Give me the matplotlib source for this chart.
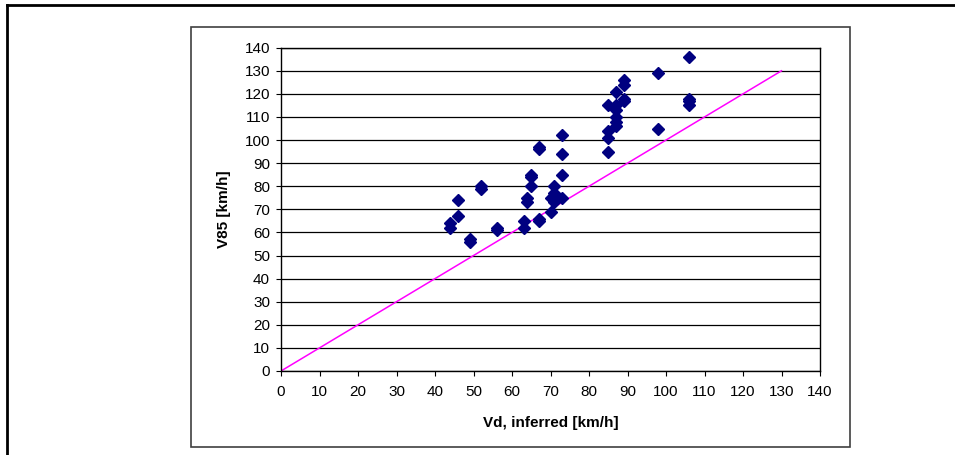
import matplotlib
matplotlib.use("Agg")
import matplotlib.pyplot as plt
from matplotlib.lines import Line2D
from matplotlib.patches import Rectangle

plt.rcParams["font.family"] = ["Liberation Sans", "DejaVu Sans"]

# data
vd_inferred = [52, 52, 46, 46, 44, 44, 56, 56, 49, 49,
               63, 63, 67, 67, 70, 71, 71, 71, 70, 73,
               64, 64, 65, 65, 65, 73, 73, 73, 67, 67,
               106, 98, 89, 89, 87, 89, 89, 85, 87, 87,
               87, 87, 87, 85, 85, 85, 98, 106, 106, 106]
v85 = [79, 80, 74, 67, 64, 62, 62, 61, 56, 57,
       65, 62, 66, 65, 69, 73, 77, 80, 75, 75,
       75, 73, 80, 84, 85, 85, 94, 102, 96, 97,
       136, 129, 126, 124, 121, 117, 118, 115, 115, 113,
       110, 108, 106, 104, 101, 95, 105, 118, 117, 115]
line_x = [0, 130]
line_y = [0, 130]

fig = plt.figure(figsize=(9.55, 4.55), dpi=100)
ax = fig.add_axes([281 / 955, 1 - 371 / 455, 539 / 955, (371 - 47.7) / 455])

ax.plot(line_x, line_y, color="#ff00ff", linewidth=1.1, zorder=2)
ax.plot(vd_inferred, v85, linestyle="none", marker="D", markersize=6.3,
        color="#000080", zorder=3)

ax.set_xlim(0, 140)
ax.set_ylim(0, 140)
ax.set_xticks(range(0, 141, 10))
ax.set_yticks(range(0, 141, 10))
ax.grid(axis="y", color="black", linewidth=0.9)
ax.set_axisbelow(True)
for s in ax.spines.values():
    s.set_color("black")
    s.set_linewidth(1.0)
ax.tick_params(direction="out", length=3.6, width=0.8, labelsize=11, colors="black")
ax.tick_params(axis="y", pad=4.3)
ax.tick_params(axis="x", pad=6.5)

ax.set_xlabel("Vd, inferred [km/h]", fontsize=11, fontweight="bold", labelpad=12)
ax.set_ylabel("V85 [km/h]", fontsize=11, fontweight="bold", labelpad=10)

# chart area box
fig.patches.append(Rectangle((191 / 955, 1 - 447 / 455), (850 - 191) / 955, (447 - 27) / 455,
                             transform=fig.transFigure, fill=False,
                             edgecolor="#404040", linewidth=1.2))
# outer frame lines
fig.lines.append(Line2D([7 / 955, 1], [1 - 5 / 455, 1 - 5 / 455], transform=fig.transFigure,
                        color="black", linewidth=2))
fig.lines.append(Line2D([7 / 955, 7 / 955], [0, 1 - 5 / 455], transform=fig.transFigure,
                        color="black", linewidth=2))

fig.savefig("out.png", dpi=100)
